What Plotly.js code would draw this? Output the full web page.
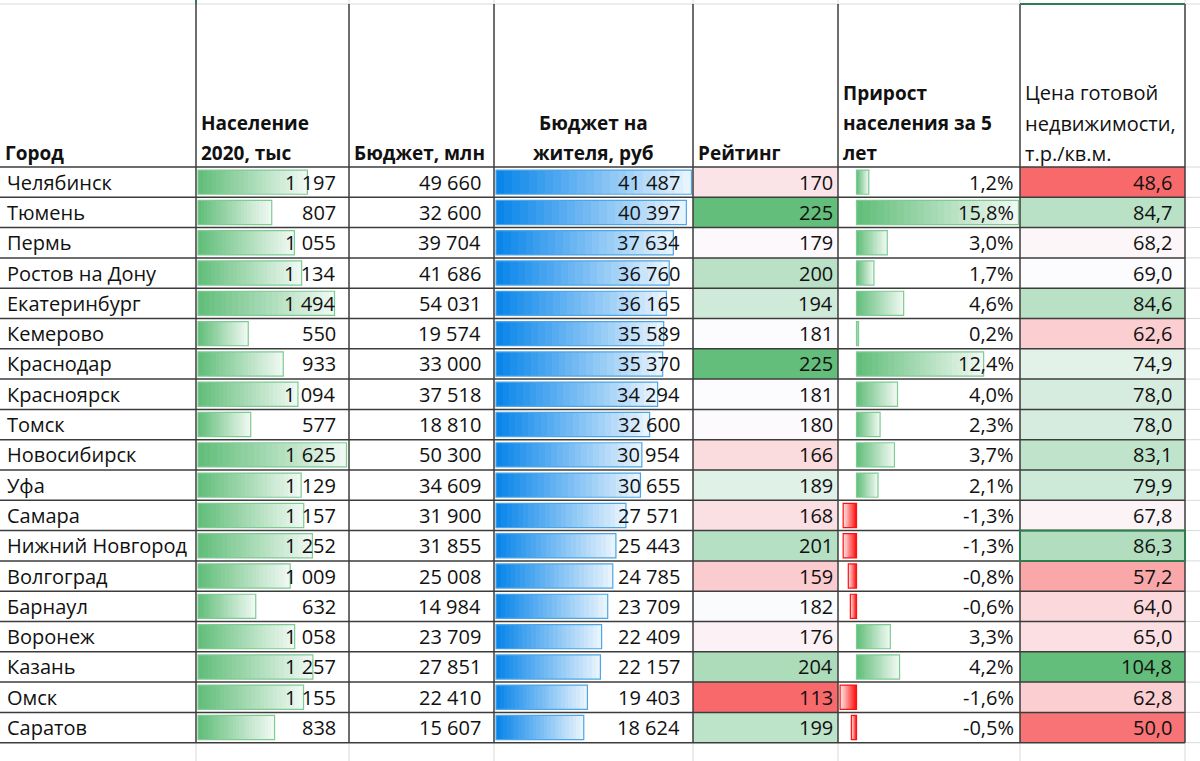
<!DOCTYPE html>
<html><head><meta charset="utf-8">
<script src="https://cdn.plot.ly/plotly-3.0.1.min.js"></script>
<style>html,body{margin:0;padding:0;background:#fff;overflow:hidden}#chart{width:1200px;height:761px}</style>
</head><body><div id="chart"></div>
<script>
// ---- data ----
const cities = ["Челябинск","Тюмень","Пермь","Ростов на Дону","Екатеринбург","Кемерово","Краснодар","Красноярск","Томск","Новосибирск","Уфа","Самара","Нижний Новгород","Волгоград","Барнаул","Воронеж","Казань","Омск","Саратов"];
const population = [1197,807,1055,1134,1494,550,933,1094,577,1625,1129,1157,1252,1009,632,1058,1257,1155,838];
const budget = [49660,32600,39704,41686,54031,19574,33000,37518,18810,50300,34609,31900,31855,25008,14984,23709,27851,22410,15607];
const budgetPerCapita = [41487,40397,37634,36760,36165,35589,35370,34294,32600,30954,30655,27571,25443,24785,23709,22409,22157,19403,18624];
const rating = [170,225,179,200,194,181,225,181,180,166,189,168,201,159,182,176,204,113,199];
const growth = [1.2,15.8,3.0,1.7,4.6,0.2,12.4,4.0,2.3,3.7,2.1,-1.3,-1.3,-0.8,-0.6,3.3,4.2,-1.6,-0.5];
const price = [48.6,84.7,68.2,69.0,84.6,62.6,74.9,78.0,78.0,83.1,79.9,67.8,86.3,57.2,64.0,65.0,104.8,62.8,50.0];
const headerCity = ["Город"];
const headerPopulation = ["Население","2020, тыс"];
const headerBudget = ["Бюджет, млн"];
const headerPerCapita = ["Бюджет на","жителя, руб"];
const headerRating = ["Рейтинг"];
const headerGrowth = ["Прирост","населения за 5","лет"];
const headerPrice = ["Цена готовой","недвижимости,","т.р./кв.м."];
const selectedRow = 12;

// ---- layout geometry ----
const W = 1200, H = 761;
const edges = [0,196,349,494,693,838,1020,1185];
const headerTop = 4, headerBottom = 167, rowH = 30.3;
const yVal = px => (px - headerBottom)/rowH - 0.5;
const rows = cities.map((c,i)=>i);
const nRows = rows.length;
const FONT = '"Open Sans", "Noto Sans", sans-serif';
const FS = 20, HFS = 19;
const txtColor = '#111';

const fmtInt = v => String(v).replace(/\B(?=(\d{3})+(?!\d))/g, ' ');
const fmt1 = v => v.toFixed(1).replace('.', ',');

function hex2rgb(h){h=h.replace('#','');return [0,2,4].map(i=>parseInt(h.substr(i,2),16));}
function mix(c, t){const a=hex2rgb(c);return 'rgb('+a.map(v=>Math.round(v+(255-v)*t)).join(',')+')';}

const traces = [];
const layout = {
  width: W, height: H, margin:{l:0,r:0,t:0,b:0}, paper_bgcolor:'#fff', plot_bgcolor:'rgba(0,0,0,0)',
  showlegend:false, barmode:'overlay', bargap:0,
  font:{family:FONT, size:FS, color:txtColor},
  yaxis:{range:[yVal(H), yVal(0)], visible:false, fixedrange:true, domain:[0,1]},
  annotations:[], shapes:[]
};

// data-bar column helper
let axN = 1;
function dataBarColumn(values, colL, colR, zeroPx, maxEndPx, color, negColor, borderColor){
  axN++;
  const ax = 'x'+axN, axKey='xaxis'+axN;
  const maxAbs = Math.max(...values);
  const pxPerUnit = (maxEndPx - zeroPx)/maxAbs;
  layout[axKey] = {domain:[colL/W, colR/W], range:[(colL-zeroPx)/pxPerUnit, (colR-zeroPx)/pxPerUnit],
    visible:false, fixedrange:true, anchor:'y'};
  const N = 24;
  for(let k=0;k<N;k++){
    const t = 0.9*k/(N-1);
    traces.push({type:'bar', orientation:'h', xaxis:ax, yaxis:'y', y:rows,
      x: values.map(v=>v/N), base: values.map(v=>v*k/N), width:0.8,
      marker:{color: values.map(v=> v>=0 ? mix(color,t) : mix(negColor,t)), line:{width:0}},
      hoverinfo:'skip'});
  }
  traces.push({type:'bar', orientation:'h', xaxis:ax, yaxis:'y', y:rows, x:values, width:0.8,
    marker:{color:'rgba(0,0,0,0)', line:{width:1.2, color: values.map(v=> v>=0 ? borderColor : negColor)}},
    hoverinfo:'skip'});
}

function heatColumn(values, colL, colR){
  axN++;
  const ax='x'+axN, axKey='xaxis'+axN;
  layout[axKey] = {domain:[colL/W, colR/W], range:[-0.5,0.5], visible:false, fixedrange:true, anchor:'y'};
  const sorted=[...values].sort((a,b)=>a-b);
  const med = sorted[Math.floor(sorted.length/2)];
  const mn = sorted[0], mx = sorted[sorted.length-1];
  const p = (med-mn)/(mx-mn);
  traces.push({type:'heatmap', xaxis:ax, yaxis:'y', x:[0], y:rows, z:values.map(v=>[v]),
    zmin:mn, zmax:mx, showscale:false, hoverinfo:'skip', xgap:0, ygap:0,
    colorscale:[[0,'#F8696B'],[p,'#FCFCFF'],[1,'#63BE7B']]});
}

dataBarColumn(population, edges[1], edges[2], 198, 346.5, '#63BE7B', '#FF0000', '#7FCB94');
dataBarColumn(budgetPerCapita, edges[3], edges[4], 496, 691.5, '#0A86EA', '#FF0000', '#4FA6E6');
heatColumn(rating, edges[4], edges[5]);
dataBarColumn(growth, edges[5], edges[6], 856.5, 1018.5, '#63BE7B', '#FF1010', '#7FCB94');
heatColumn(price, edges[6], edges[7]);

// cell texts
function colText(strs, rightPx, pad){
  strs.forEach((s,i)=>layout.annotations.push({xref:'paper', yref:'y', x:rightPx/W, y:rows[i], xanchor:'right', yanchor:'middle',
    xshift:-pad, text:s, showarrow:false, font:{family:FONT, size:FS, color:txtColor}}));
}
cities.forEach((c,i)=>layout.annotations.push({xref:'paper', yref:'y', x:5/W, y:rows[i], xanchor:'left', yanchor:'middle',
  text:c, showarrow:false, font:{family:FONT, size:FS, color:txtColor}}));
colText(population.map(fmtInt), edges[2], 11);
colText(budget.map(fmtInt), edges[3], 11);
colText(budgetPerCapita.map(fmtInt), edges[4], 11);
colText(rating.map(String), edges[5], 3);
colText(growth.map(v=>fmt1(v)+'%'), edges[6], 4);
colText(price.map(fmt1), edges[7], 11);

// headers
function header(lines, xPx, anchor, bold){
  const n = lines.length;
  lines.forEach((s,j)=>{
    const cy = 153 - 30*(n-1-j);
    layout.annotations.push({xref:'paper', yref:'paper', x:xPx/W, y:1-cy/H, xanchor:anchor, yanchor:'middle',
      text: bold ? '<b>'+s+'</b>' : s, showarrow:false, font:{family:FONT, size:bold?HFS:FS, color:'#111'}});
  });
}
header(headerCity, 3, 'left', true);
header(headerPopulation, 199, 'left', true);
header(headerBudget, 352, 'left', true);
header(headerPerCapita, (edges[3]+edges[4])/2, 'center', true);
header(headerRating, 696, 'left', true);
header(headerGrowth, 841, 'left', true);
header(headerPrice, 1023, 'left', false);

// grid lines (sheet borders)
const dark = '#3c3c3c', light = '#d9d9d9';
const S = layout.shapes;
S.push({type:'line', xref:'paper', yref:'y', x0:0, x1:1, y0:yVal(headerTop), y1:yVal(headerTop), line:{color:light, width:1}});
for(let i=0;i<=nRows;i++) S.push({type:'line', xref:'paper', yref:'y', x0:edges[7]/W, x1:1, y0:i-0.5, y1:i-0.5, line:{color:light, width:1}});
for(let e=1;e<edges.length;e++){
  S.push({type:'line', xref:'paper', yref:'y', x0:edges[e]/W, x1:edges[e]/W, y0:nRows-0.5, y1:yVal(H), line:{color:light, width:1}});
  S.push({type:'line', xref:'paper', yref:'y', x0:edges[e]/W, x1:edges[e]/W, y0:yVal(0), y1:yVal(headerTop), line:{color:light, width:1}});
}
for(let i=0;i<=nRows;i++) S.push({type:'line', xref:'paper', yref:'y', x0:0, x1:edges[7]/W, y0:i-0.5, y1:i-0.5, line:{color:dark, width:1.5}});
for(let e=1;e<edges.length;e++) S.push({type:'line', xref:'paper', yref:'y', x0:edges[e]/W, x1:edges[e]/W, y0:yVal(headerTop), y1:nRows-0.5, line:{color:dark, width:1.5}});
// selected cell
S.push({type:'rect', xref:'paper', yref:'y', x0:edges[6]/W, x1:edges[7]/W, y0:selectedRow-0.5, y1:selectedRow+0.5, line:{color:'#2E7D4F', width:2}});
S.push({type:'line', xref:'paper', yref:'y', x0:edges[6]/W, x1:edges[7]/W, y0:yVal(headerTop), y1:yVal(headerTop), line:{color:'#2E7D4F', width:2}});
S.push({type:'line', xref:'paper', yref:'y', x0:edges[1]/W, x1:edges[1]/W, y0:yVal(0), y1:yVal(headerTop), line:{color:'#2E7D4F', width:2}});

Plotly.newPlot('chart', traces, layout, {staticPlot:true, displayModeBar:false});
</script></body></html>
